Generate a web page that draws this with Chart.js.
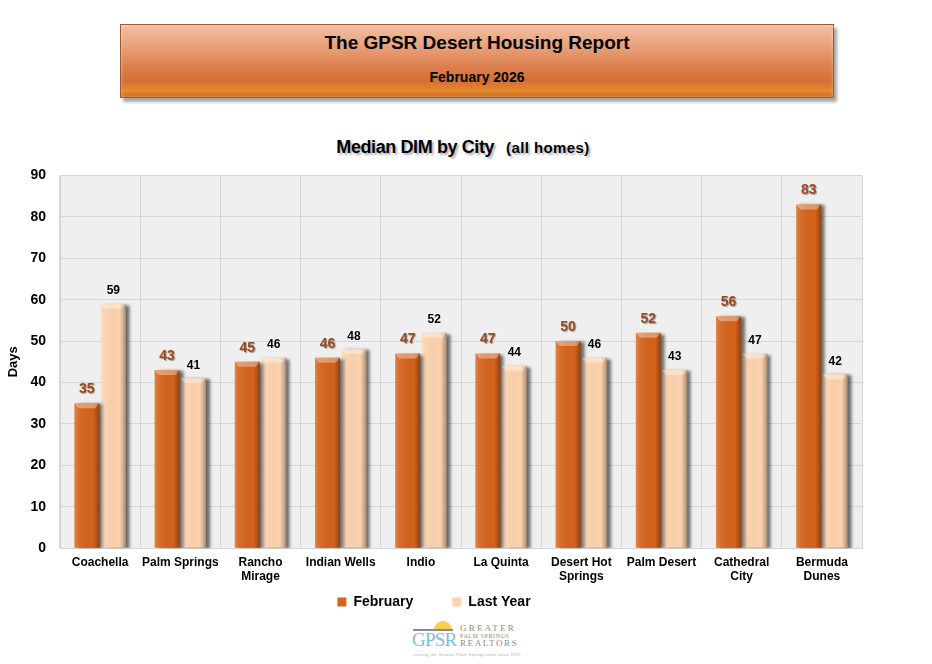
<!DOCTYPE html>
<html>
<head>
<meta charset="utf-8">
<script src="https://cdn.jsdelivr.net/npm/chart.js@4.4.1/dist/chart.umd.min.js"></script>
<style>
  html, body { margin: 0; padding: 0; background: #fff; }
  body { width: 932px; height: 664px; position: relative; overflow: hidden; font-family: "Liberation Sans", Arial, sans-serif; }
  .banner {
    position: absolute; left: 120px; top: 24px; width: 712px; height: 72px;
    background: linear-gradient(to bottom, #f3c0a2 0%, #e9a07a 30%, #dc7e4c 60%, #d56f35 78%, #e58a2c 92%, #c9651e 100%);
    border: 1px solid #9a5a3a;
    box-shadow: 3px 4px 3px rgba(0,0,0,0.35), inset 0 0 3px rgba(255,255,255,0.5);
    text-align: center; color: #000; font-weight: bold;
  }
  .banner .t1 { position: absolute; left: 0; right: 0; top: 7px; font-size: 19px; }
  .banner .t2 { position: absolute; left: 0; right: 0; top: 44px; font-size: 14px; }
  .ctitle {
    position: absolute; left: 0; width: 926px; top: 137px; text-align: center;
    font-weight: bold; font-size: 18px; letter-spacing: -0.4px;
    text-shadow: 2px 2px 2px rgba(0,0,0,0.3);
  }
  .ctitle small { font-size: 15px; letter-spacing: 0.4px; margin-left: 12px; }
  .chart-box { position: absolute; left: 0; top: 153px; width: 932px; height: 466px; }
  .logo { position: absolute; left: 412px; top: 620px; width: 104px; height: 40px; }
  .logo .sun { position: absolute; left: 22px; top: 1px; width: 18px; height: 9px; border-radius: 9px 9px 0 0; background: #f7cf4a; }
  .logo .roof { position: absolute; left: 1px; top: 9px; width: 40px; height: 2px; background: #8a8a8a; }
  .logo .gpsr { position: absolute; left: 0px; top: 9px; font-family: "Liberation Serif", serif; font-size: 19px; color: #79bfdc; letter-spacing: -0.8px; }
  .logo .g1 { position: absolute; left: 48px; top: 3px; font-family: "Liberation Serif", serif; font-size: 9px; color: #8a8a8a; letter-spacing: 2.2px; }
  .logo .g2 { position: absolute; left: 48px; top: 13px; font-family: "Liberation Serif", serif; font-size: 6px; color: #8a8a8a; letter-spacing: 0.6px; }
  .logo .g3 { position: absolute; left: 48px; top: 18px; font-family: "Liberation Serif", serif; font-size: 9px; color: #8a8a8a; letter-spacing: 1.6px; }
  .logo .tag { position: absolute; left: 1px; top: 32px; font-size: 4px; color: #aaa; letter-spacing: 0.4px; white-space: nowrap; }
</style>
</head>
<body>
<div class="banner">
  <div class="t1">The GPSR Desert Housing Report</div>
  <div class="t2">February 2026</div>
</div>
<div class="ctitle">Median DIM by City<small>(all homes)</small></div>
<div class="chart-box"><canvas id="dimChart"></canvas></div>
<div class="logo">
  <div class="sun"></div>
  <div class="roof"></div>
  <div class="gpsr">GPSR</div>
  <div class="g1">GREATER</div>
  <div class="g2">PALM SPRINGS</div>
  <div class="g3">REALTORS</div>
  <div class="tag">serving the Greater Palm Springs area since 1925</div>
</div>

<script>
// chart values
const cities = ['Coachella', 'Palm Springs', ['Rancho', 'Mirage'], 'Indian Wells', 'Indio',
    'La Quinta', ['Desert Hot', 'Springs'], 'Palm Desert', ['Cathedral', 'City'], ['Bermuda', 'Dunes']];
const february = [35, 43, 45, 46, 47, 47, 50, 52, 56, 83];
const lastYear = [59, 41, 46, 48, 52, 44, 46, 43, 47, 42];
const yTicks = [0, 10, 20, 30, 40, 50, 60, 70, 80, 90];

const febColor = '#d4631b';
const lastColor = '#fcd2ad';

// grey plot background
const plotBackground = {
    id: 'plotBackground',
    beforeDraw(chart) {
        const { ctx, chartArea: a } = chart;
        ctx.save();
        ctx.fillStyle = '#efefef';
        ctx.fillRect(a.left, a.top, a.right - a.left, a.bottom - a.top);
        ctx.restore();
    }
};

// nudge the legend a little to the right, as in the original
const legendShift = {
    id: 'legendShift',
    afterLayout(chart) {
        chart.legend.left += 3;
        chart.legend.right += 3;
    }
};

// drop shadow behind the bars, then bevel + value labels on top
const barStyle = {
    id: 'barStyle',
    beforeDatasetsDraw(chart) {
        const ctx = chart.ctx;
        ctx.save();
        ctx.shadowColor = 'rgba(0,0,0,0.55)';
        ctx.shadowOffsetX = 4;
        ctx.shadowOffsetY = 1;
        ctx.shadowBlur = 3;
    },
    afterDatasetsDraw(chart) {
        const ctx = chart.ctx;
        ctx.restore();
        chart.data.datasets.forEach((ds, di) => {
            const meta = chart.getDatasetMeta(di);
            meta.data.forEach((bar, i) => {
                const { x, y, base, width } = bar.getProps(['x', 'y', 'base', 'width'], true);
                const left = x - width / 2;
                const h = base - y;
                // side shading
                const g = ctx.createLinearGradient(left, 0, left + width, 0);
                g.addColorStop(0, 'rgba(255,255,255,0.22)');
                g.addColorStop(0.15, 'rgba(255,255,255,0.08)');
                g.addColorStop(0.75, 'rgba(0,0,0,0)');
                g.addColorStop(0.9, 'rgba(0,0,0,0.18)');
                g.addColorStop(1, 'rgba(0,0,0,0.35)');
                ctx.fillStyle = g;
                ctx.fillRect(left, y, width, h);
                // top bevel
                ctx.beginPath();
                ctx.moveTo(left, y);
                ctx.lineTo(left + width, y);
                ctx.lineTo(left + width - 4, y + 5);
                ctx.lineTo(left + 4, y + 5);
                ctx.closePath();
                ctx.fillStyle = 'rgba(255,255,255,0.35)';
                ctx.fill();

                // value label
                ctx.save();
                ctx.textAlign = 'center';
                ctx.textBaseline = 'bottom';
                if (di === 0) {
                    ctx.font = 'bold 14px "Liberation Sans", Arial, sans-serif';
                    ctx.shadowColor = 'rgba(0,0,0,0.35)';
                    ctx.shadowOffsetX = 1;
                    ctx.shadowOffsetY = 1;
                    ctx.shadowBlur = 1;
                    ctx.fillStyle = '#9a4a1c';
                } else {
                    ctx.font = 'bold 12px "Liberation Sans", Arial, sans-serif';
                    ctx.fillStyle = '#000';
                }
                ctx.fillText(ds.data[i], x, y - 7);
                ctx.restore();
            });
        });
    }
};

const chart = new Chart(document.getElementById('dimChart'), {
    type: 'bar',
    data: {
        labels: cities,
        datasets: [{
            label: 'February',
            data: february,
            backgroundColor: febColor,
            borderWidth: 0,
            categoryPercentage: 0.66,
            barPercentage: 0.94
        }, {
            label: 'Last Year',
            data: lastYear,
            backgroundColor: lastColor,
            borderWidth: 0,
            categoryPercentage: 0.66,
            barPercentage: 0.94
        }]
    },
    options: {
        responsive: true,
        maintainAspectRatio: false,
        animation: false,
        layout: {
            padding: { top: 10, right: 70, left: 0, bottom: 0 }
        },
        plugins: {
            legend: {
                position: 'bottom',
                labels: {
                    boxWidth: 9,
                    boxHeight: 9,
                    padding: 4,
                    color: '#000',
                    font: { size: 14, weight: 'bold', family: '"Liberation Sans", Arial, sans-serif' },
                    // wider gap between the two entries
                    generateLabels(chart) {
                        const items = Chart.defaults.plugins.legend.labels.generateLabels(chart);
                        items[0].text = items[0].text + '         ';
                        return items;
                    }
                }
            },
            tooltip: { enabled: false }
        },
        scales: {
            y: {
                min: 0,
                max: 90,
                afterBuildTicks(scale) {
                    scale.ticks = yTicks.map(v => ({ value: v }));
                },
                afterFit(scale) {
                    scale.width = 60;
                },
                title: {
                    display: true,
                    text: 'Days',
                    color: '#000',
                    padding: { top: 6, bottom: 0 },
                    font: { size: 13, weight: 'bold', family: '"Liberation Sans", Arial, sans-serif' }
                },
                ticks: {
                    color: '#000',
                    padding: 14,
                    font: { size: 14, weight: 'bold', family: '"Liberation Sans", Arial, sans-serif' }
                },
                grid: {
                    color: '#d6d6d6',
                    drawTicks: false
                },
                border: { color: '#d6d6d6' }
            },
            x: {
                ticks: {
                    color: '#000',
                    padding: 7,
                    maxRotation: 0,
                    autoSkip: false,
                    font: { size: 12, weight: 'bold', family: '"Liberation Sans", Arial, sans-serif' }
                },
                grid: {
                    color: '#d6d6d6',
                    drawTicks: false,
                    offset: true
                },
                border: { color: '#d6d6d6' }
            }
        }
    },
    plugins: [plotBackground, legendShift, barStyle]
});
</script>
</body>
</html>
